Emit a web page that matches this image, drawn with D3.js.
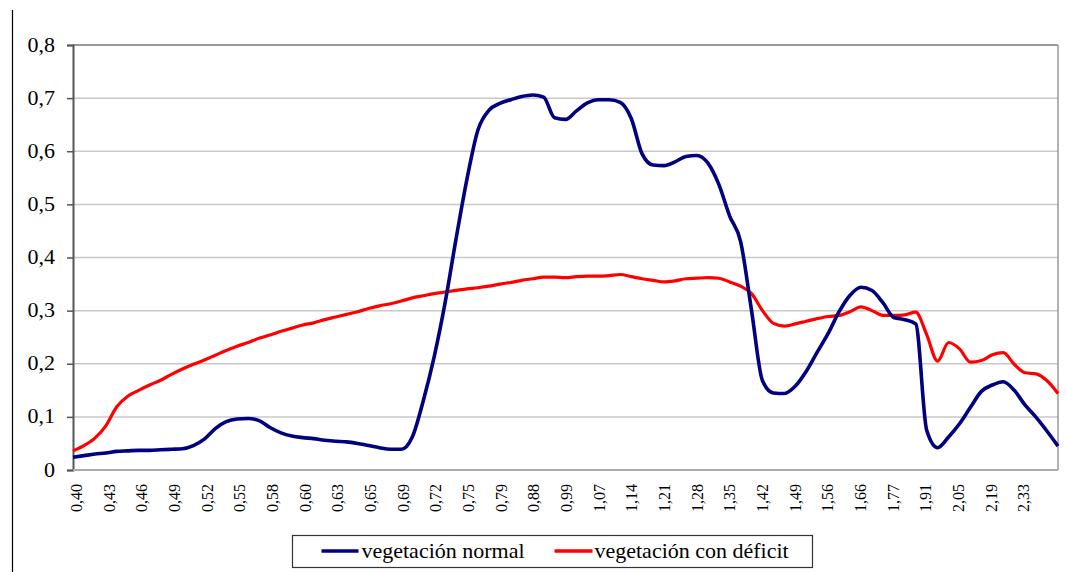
<!DOCTYPE html>
<html>
<head>
<meta charset="utf-8">
<script src="https://cdn.jsdelivr.net/npm/d3@7"></script>
</head>
<body style="margin:0">
<div id="chart"></div>
<script>
// wavelength labels (µm) shown on the category axis
var categories = ["0,40","0,43","0,46","0,49","0,52","0,55","0,58","0,60","0,63","0,65",
  "0,69","0,72","0,75","0,79","0,88","0,99","1,07","1,14","1,21","1,28",
  "1,35","1,42","1,49","1,56","1,66","1,77","1,91","2,05","2,19","2,33"];

var yTicks = [0, 0.1, 0.2, 0.3, 0.4, 0.5, 0.6, 0.7, 0.8];

// reflectance at evenly spaced samples along the axis
var normal = [0.024,0.027,0.030,0.032,0.035,0.036,0.037,0.037,0.038,0.039,
  0.040,0.046,0.058,0.078,0.091,0.096,0.097,0.093,0.080,0.070,
  0.064,0.061,0.059,0.056,0.054,0.053,0.050,0.046,0.042,0.039,
  0.039,0.062,0.130,0.213,0.315,0.435,0.548,0.640,0.677,0.690,
  0.697,0.703,0.706,0.702,0.663,0.660,0.676,0.691,0.697,0.697,
  0.692,0.662,0.595,0.574,0.573,0.580,0.590,0.592,0.578,0.538,
  0.478,0.430,0.300,0.168,0.145,0.144,0.158,0.186,0.222,0.257,
  0.298,0.329,0.344,0.338,0.315,0.287,0.283,0.275,0.075,0.042,
  0.062,0.087,0.118,0.148,0.160,0.166,0.150,0.122,0.099,0.073,0.045];

var deficit = [0.036,0.046,0.060,0.083,0.119,0.139,0.150,0.160,0.169,0.180,
  0.190,0.199,0.207,0.216,0.225,0.233,0.240,0.248,0.254,0.261,
  0.267,0.273,0.277,0.283,0.288,0.293,0.298,0.304,0.309,0.313,
  0.318,0.324,0.328,0.332,0.335,0.338,0.341,0.343,0.346,0.350,
  0.353,0.357,0.360,0.363,0.363,0.362,0.364,0.365,0.365,0.366,
  0.368,0.364,0.360,0.357,0.354,0.356,0.360,0.361,0.362,0.361,
  0.354,0.346,0.332,0.300,0.276,0.271,0.275,0.280,0.285,0.289,
  0.291,0.298,0.307,0.300,0.291,0.291,0.292,0.297,0.255,0.205,
  0.240,0.228,0.203,0.206,0.217,0.221,0.199,0.183,0.181,0.168,0.144];

var seriesNames = ["vegetación normal", "vegetación con déficit"];
var seriesColors = ["#000080", "#ff0000"];

var FONT = "'Liberation Serif'";

var W = 1066, H = 572;
var margin = {top: 45, right: 8, bottom: 102, left: 73},
    width = W - margin.left - margin.right,
    height = H - margin.top - margin.bottom;

var svg = d3.select("#chart").append("svg")
    .attr("width", W)
    .attr("height", H);

// page border line on the left
svg.append("line")
    .attr("x1", 12.5).attr("x2", 12.5)
    .attr("y1", 10).attr("y2", H)
    .attr("stroke", "#000").attr("stroke-width", 1.2);

var g = svg.append("g")
    .attr("transform", "translate(" + margin.left + "," + margin.top + ")");

var x = d3.scaleLinear().domain([0, normal.length - 1]).range([0, width]);
var y = d3.scaleLinear().domain([0, 0.8]).range([height, 0]);

// label i sits about 3 samples apart, slightly right of the first sample
var labelStep = 2.985, labelOffset = 0.34;

// gridlines
g.selectAll(".grid")
  .data(yTicks.filter(function(d) { return d > 0 && d < 0.8; }))
  .enter().append("line")
    .attr("class", "grid")
    .attr("x1", 0).attr("x2", width)
    .attr("y1", function(d) { return y(d); })
    .attr("y2", function(d) { return y(d); })
    .attr("stroke", "#c8c8c8").attr("stroke-width", 1.5);

// frame: top and right
g.append("line").attr("x1", 0).attr("x2", width).attr("y1", y(0.8)).attr("y2", y(0.8))
    .attr("stroke", "#777").attr("stroke-width", 1.5);
g.append("line").attr("x1", width).attr("x2", width).attr("y1", y(0.8)).attr("y2", y(0))
    .attr("stroke", "#999").attr("stroke-width", 1.5);

// y axis ticks
var yAxis = d3.axisLeft(y)
    .tickValues(yTicks)
    .tickSize(6)
    .tickFormat("");

var ya = g.append("g").call(yAxis);
ya.select(".domain").attr("stroke", "#555").attr("stroke-width", 2);
ya.selectAll(".tick line").attr("stroke", "#555").attr("stroke-width", 1.5);

var fmt = function(d) { return d === 0 ? "0" : d3.format(".1f")(d).replace(".", ","); };

// the original text is a little wider than the font, so stretch it
g.selectAll(".ylab")
  .data(yTicks)
  .enter().append("text")
    .attr("class", "ylab")
    .attr("transform", function(d) { return "translate(-18," + (y(d) + 6.5) + ") scale(1.1,1)"; })
    .attr("text-anchor", "end")
    .style("font-family", FONT)
    .style("font-size", "20px")
    .text(fmt);

// x axis line
g.append("line").attr("x1", 0).attr("x2", width).attr("y1", height).attr("y2", height)
    .attr("stroke", "#aaa").attr("stroke-width", 2);

g.selectAll(".xlab")
  .data(categories)
  .enter().append("text")
    .attr("class", "xlab")
    .attr("transform", function(d, i) {
      return "translate(" + x(labelOffset + labelStep * i) + "," + (height + 14) + ") rotate(-90)";
    })
    .attr("text-anchor", "end")
    .attr("dy", "0.33em")
    .style("font-family", FONT)
    .style("font-size", "16px")
    .text(function(d) { return d; });

// series lines
var line = d3.line()
    .x(function(d, i) { return x(i); })
    .y(function(d) { return y(d); })
    .curve(d3.curveMonotoneX);

[deficit, normal].forEach(function(s) {
  var idx = s === normal ? 0 : 1;
  g.append("path")
    .datum(s)
    .attr("fill", "none")
    .attr("stroke", seriesColors[idx])
    .attr("stroke-width", idx === 0 ? 3.6 : 3.2)
    .attr("stroke-linejoin", "round")
    .attr("d", line);
});

// legend
var legend = svg.append("g").attr("transform", "translate(292.5,535.5)");
legend.append("rect")
    .attr("width", 520).attr("height", 32)
    .attr("fill", "#fff").attr("stroke", "#333").attr("stroke-width", 1.2);

var legendItems = [{x0: 29, x1: 66, tx: 69}, {x0: 262, x1: 300, tx: 302}];
legendItems.forEach(function(it, i) {
  legend.append("line")
    .attr("x1", it.x0).attr("x2", it.x1).attr("y1", 15.5).attr("y2", 15.5)
    .attr("stroke", seriesColors[i]).attr("stroke-width", 3.6);
  legend.append("text")
    .attr("transform", "translate(" + it.tx + ",22) scale(1.1,1)")
    .style("font-family", FONT)
    .style("font-size", "20px")
    .text(seriesNames[i]);
});
</script>
</body>
</html>
